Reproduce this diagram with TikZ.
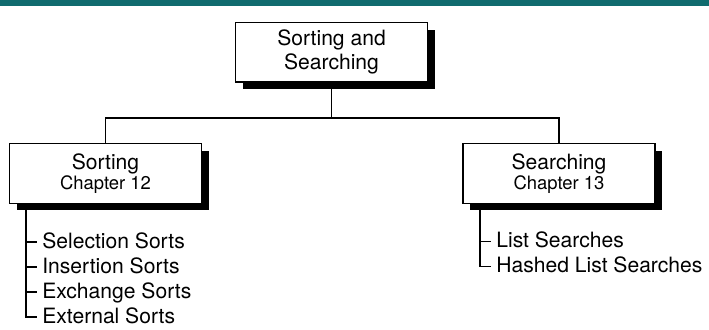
\documentclass[tikz,border=0pt]{standalone}
\usepackage{fontspec}
\setmainfont{TeX Gyre Heros}
\usepackage{tikz}
\usetikzlibrary{positioning, shadows}
\definecolor{topbar}{HTML}{106B6E}

\tikzset{
  chapbox/.style={draw, fill=white, line width=0.6pt, minimum width=3.84cm,
    minimum height=1.19cm, inner sep=0pt, align=center,
    font=\fontsize{12}{13.6}\selectfont,
    drop shadow={shadow xshift=0.14cm, shadow yshift=-0.14cm, fill=black, opacity=1}},
  topic/.style={anchor=west, inner xsep=0.1cm, inner ysep=0pt, text height=0.72em,
    text depth=0pt, font=\fontsize{12}{14}\selectfont},
  link/.style={line width=0.6pt},
  rail/.style={line width=0.9pt}
}
\newcommand{\chapfont}{\fontsize{10.5}{12}\selectfont}

\begin{document}
\begin{tikzpicture}
  \useasboundingbox (0,0) rectangle (14.18,-6.58);
  \fill[topbar] (0,-0.01) rectangle (14.18,-0.12);

  % Boxes
  \node[chapbox] (top) at (6.63,-1.045) {Sorting and\\Searching};
  \node[chapbox] (sort) at (2.11,-3.474) {Sorting\\[-2pt]{\chapfont Chapter 12}};
  \node[chapbox] (search) at (11.18,-3.474) {Searching\\[-2pt]{\chapfont Chapter 13}};

  % Connectors
  \coordinate (bus) at (0,-2.36);
  \draw[link] (top.south) -- (top.south |- bus);
  \draw[link] (sort.north) |- (top.south |- bus) -| (search.north);

  % Sorting topics
  \coordinate (sortrail) at (0.52,-4.2);
  \foreach \t [count=\i] in {Selection Sorts, Insertion Sorts, Exchange Sorts, External Sorts} {
    \node[topic] (s\i) at (0.74,-4.84-0.5*\i+0.5) {\t};
  }
  \foreach \i in {1,2,3} {
    \draw[rail] (sortrail |- s\i.west) -- (s\i.west);
  }
  \draw[rail] (sortrail) |- (s4.west);

  % Searching topics
  \coordinate (searchrail) at (9.6,-4.2);
  \foreach \t [count=\i] in {List Searches, Hashed List Searches} {
    \node[topic] (h\i) at (9.82,-4.83-0.5*\i+0.5) {\t};
  }
  \draw[rail] (searchrail |- h1.west) -- (h1.west);
  \draw[rail] (searchrail) |- (h2.west);
\end{tikzpicture}
\end{document}
